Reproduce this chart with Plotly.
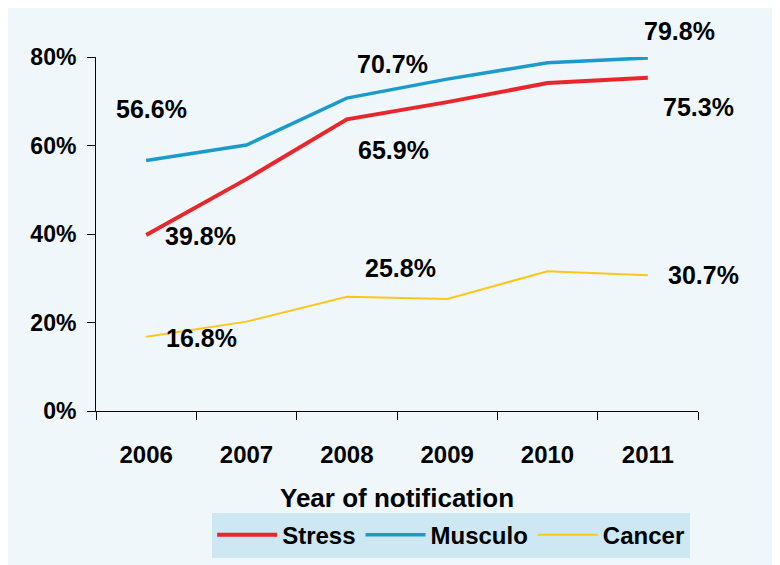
import plotly.graph_objects as go

years = ["2006", "2007", "2008", "2009", "2010", "2011"]
stress = [39.8, 52.4, 65.9, 69.8, 74.1, 75.3]
musculo = [56.6, 60.1, 70.7, 75.0, 78.7, 79.8]
cancer = [16.8, 20.2, 25.8, 25.3, 31.6, 30.7]

y_ticks = [0, 20, 40, 60, 80]
y_tick_text = ["0%", "20%", "40%", "60%", "80%"]

FONT = "Liberation Sans, Arial, sans-serif"
RED = "#E8262B"
BLUE = "#1A9BCB"
YELLOW = "#FFC61A"

fig = go.Figure()
fig.add_trace(go.Scatter(x=years, y=stress, name="<b>Stress</b>", mode="lines",
                         line=dict(color=RED, width=4)))
fig.add_trace(go.Scatter(x=years, y=musculo, name="<b>Musculo</b>", mode="lines",
                         line=dict(color=BLUE, width=3.5)))
fig.add_trace(go.Scatter(x=years, y=cancer, name="<b>Cancer</b>", mode="lines",
                         line=dict(color=YELLOW, width=2)))

# data labels: (series, index, xshift, yshift)
labels = [
    (stress, 0, 54, -1), (musculo, 0, 5, 52), (cancer, 0, 55, -1),
    (musculo, 2, 46, 34), (stress, 2, 47, -31), (cancer, 2, 54, 29),
    (musculo, 5, 32, 27), (stress, 5, 51, -29), (cancer, 5, 56, 0),
]
for series, i, dx, dy in labels:
    # category axis: annotation x given as category index
    fig.add_annotation(x=i, y=series[i], text=f"<b>{series[i]:.1f}%</b>",
                       showarrow=False, xshift=dx, yshift=dy,
                       font=dict(family=FONT, size=25, color="black"))

# page body has an 8px margin, so the figure is 8px smaller each way
fig.update_layout(
    width=772, height=557,
    margin=dict(l=88, r=82, t=49, b=154),
    paper_bgcolor="#F0F7FB",
    plot_bgcolor="#F0F7FB",
    font=dict(family=FONT, color="black"),
    showlegend=True,
    legend=dict(orientation="h", xref="container", yref="container",
                x=0.574, xanchor="center", y=0.094, yanchor="top",
                bgcolor="#CDE8F3", font=dict(family=FONT, size=24, color="black"),
                itemwidth=60, tracegroupgap=0),
)
fig.update_xaxes(
    type="category", range=[-0.5, len(years) - 0.5], automargin=False,
    tickvals=years, ticktext=[f"<b>{y}</b>" for y in years],
    showgrid=False, showline=True, linecolor="black", linewidth=1,
    ticks="outside", ticklen=8, tickcolor="black", tickson="boundaries",
    tickfont=dict(family=FONT, size=24, color="black"), ticklabelstandoff=22,
    title=dict(text="<b>Year of notification</b>", standoff=28,
               font=dict(family=FONT, size=26, color="black")),
)
fig.update_yaxes(
    range=[0, 80], automargin=False,
    tickvals=y_ticks, ticktext=[f"<b>{t}</b>" for t in y_tick_text],
    showgrid=False, zeroline=False, showline=True, linecolor="black", linewidth=1,
    ticks="outside", ticklen=8, tickcolor="black",
    tickfont=dict(family=FONT, size=23, color="black"), ticklabelstandoff=6,
)

fig.write_html("out.html")
